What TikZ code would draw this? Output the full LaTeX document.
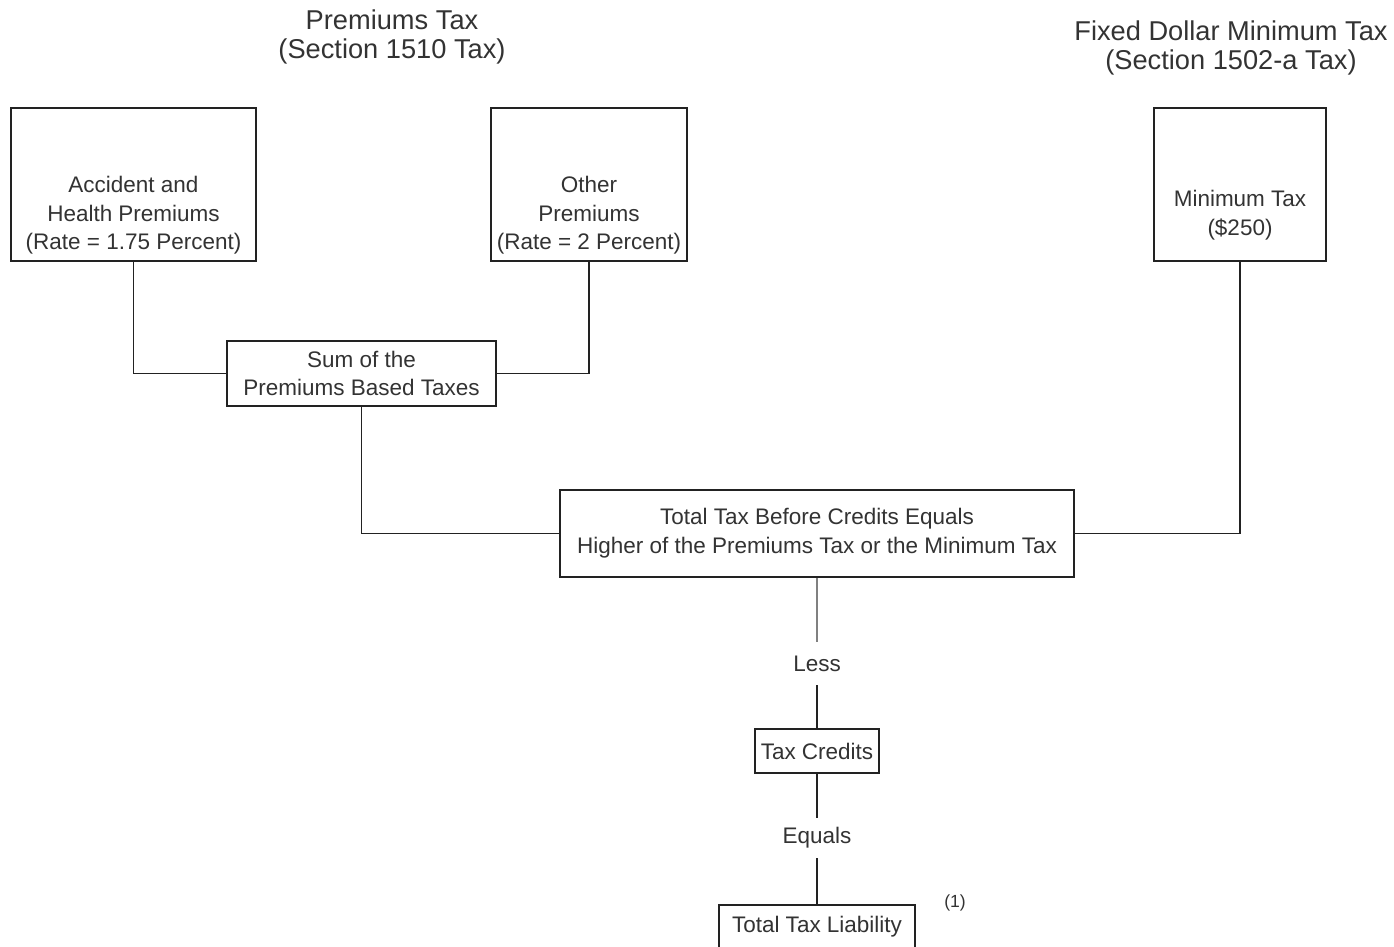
\documentclass[tikz,border=0pt]{standalone}
\usepackage{fontspec}
\setmainfont{Liberation Sans}
\usepackage{tikz}

\definecolor{inkgray}{HTML}{333333}
\definecolor{linegray}{HTML}{222222}

\begin{document}
\begin{tikzpicture}[x=0.02cm,y=-0.02cm]
\tikzstyle{every node}=[text=inkgray,font=\fontsize{12.8}{16.4}\selectfont,align=center,inner sep=0pt];
\tikzstyle{taxbox}=[draw=linegray,line width=1.1pt,fill=white];
\tikzstyle{link}=[draw=linegray,line width=1.1pt];
\tikzstyle{heading}=[font=\fontsize{15.5}{16.4}\selectfont];
\useasboundingbox (0,0) rectangle (1394,947);

% headings
\node[heading] (premhead) at (392,37) {Premiums Tax\\(Section 1510 Tax)};
\node[heading] (minhead) at (1231,48) {Fixed Dollar Minimum Tax\\(Section 1502-a Tax)};

% boxes
\node[taxbox,minimum width=4.9cm,minimum height=3.06cm] (acc) at (133.5,184.5)
	{\strut\\\mbox{}\\Accident and\\Health Premiums\\(Rate = 1.75 Percent)};
\node[taxbox,minimum width=3.92cm,minimum height=3.06cm] (oth) at (589,184.5)
	{\strut\\\mbox{}\\Other\\Premiums\\(Rate = 2 Percent)};
\node[taxbox,minimum width=3.44cm,minimum height=3.06cm] (mint) at (1240,184.5)
	{\strut\\\mbox{}\\Minimum Tax\\(\$250)};
\node[taxbox,minimum width=5.38cm,minimum height=1.3cm] (sum) at (361.5,373.5)
	{Sum of the\\Premiums Based Taxes};
\node[taxbox,minimum width=10.28cm,minimum height=1.74cm] (tot) at (817,533.5)
	{Total Tax Before Credits Equals\\Higher of the Premiums Tax or the Minimum Tax};
\node[minimum height=0.86cm] (less) at (817,663.5) {Less};
\node[taxbox,minimum width=2.48cm,minimum height=0.88cm] (cred) at (817,751) {Tax Credits};
\node[minimum height=0.8cm] (eq) at (817,838) {Equals};
\node[taxbox,minimum width=3.92cm,minimum height=0.88cm] (liab) at (817,927) {Total Tax Liability};
\node[font=\fontsize{10}{12}\selectfont] (note) at (955,903) {(1)};

% connectors
\draw[link] (acc.south) |- (sum.west);
\draw[link] (oth.south) |- (sum.east);
\draw[link] (sum.south) |- (tot.west);
\draw[link] (mint.south) |- (tot.east);
\draw[link,draw=gray] (tot.south) -- (less.north);
\draw[link] (less.south) -- (cred.north);
\draw[link] (cred.south) -- (eq.north);
\draw[link] (eq.south) -- (liab.north);
\end{tikzpicture}
\end{document}
